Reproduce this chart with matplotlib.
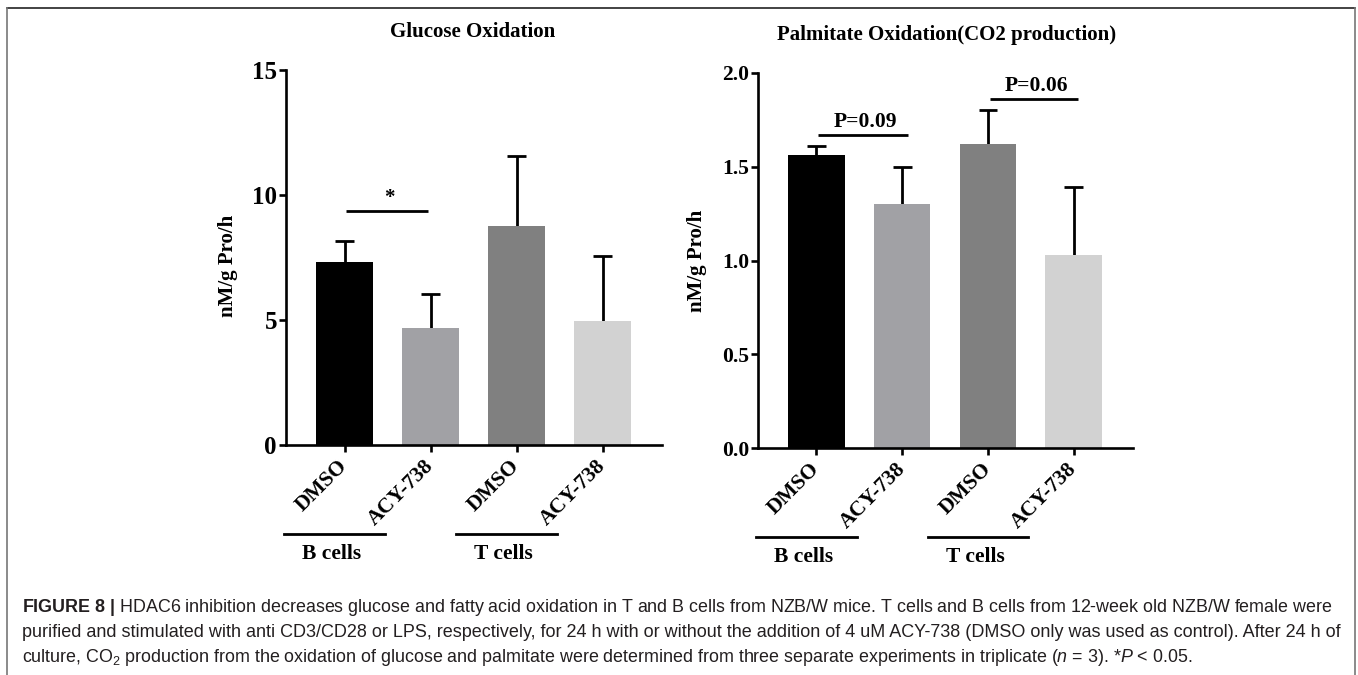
import matplotlib
matplotlib.use("Agg")
import matplotlib.pyplot as plt
from matplotlib.lines import Line2D
from matplotlib.transforms import blended_transform_factory

# ---- data ----
conditions = ["DMSO", "ACY-738", "DMSO", "ACY-738"]
groups = ["B cells", "T cells"]
bar_colors = ["#000000", "#a1a1a5", "#808080", "#d2d2d2"]

glucose_mean = [7.32, 4.68, 8.77, 4.96]
glucose_err = [0.84, 1.36, 2.80, 2.61]

palmitate_mean = [1.56, 1.30, 1.62, 1.03]
palmitate_err = [0.05, 0.20, 0.18, 0.36]

# (start bar, end bar, height, label)
glucose_brackets = [(0.02, 0.97, 9.35, "*")]
palmitate_brackets = [(0.02, 1.07, 1.668, "P=0.09"), (2.02, 3.05, 1.86, "P=0.06")]

caption = [
    r"$\bf{FIGURE\ 8\ |}$ HDAC6 inhibition decreases glucose and fatty acid oxidation in T and B cells from NZB/W mice. "
    "T cells and B cells from 12-week old NZB/W female were",
    "purified and stimulated with anti CD3/CD28 or LPS, respectively, for 24 h with or without the addition of "
    "4 uM ACY-738 (DMSO only was used as control). After 24 h of",
    r"culture, CO$_2$ production from the oxidation of glucose and palmitate were determined from three separate "
    r"experiments in triplicate ($\it{n}$ = 3). *$\it{P}$ < 0.05.",
]

plt.rcParams["font.family"] = "Liberation Serif"
plt.rcParams["mathtext.fontset"] = "custom"
plt.rcParams["mathtext.rm"] = "Liberation Sans:normal"
plt.rcParams["mathtext.it"] = "Liberation Sans:italic:normal"
plt.rcParams["mathtext.bf"] = "Liberation Sans:bold"

W, H = 1358, 675
fig = plt.figure(figsize=(W / 100, H / 100), dpi=100)


def px(x, y):
    return x / W, 1 - y / H


def bar_panel(rect, means, errs, ylim, yticks, fmt, brackets, title, title_xy,
              ylabel_xy, tick_fs, bracket_fs):
    ax = fig.add_axes(rect)
    x = list(range(len(means)))
    ax.bar(x, means, width=0.66, color=bar_colors, zorder=2)
    # upper error bars only (line from bar top + cap)
    tops = [m + e for m, e in zip(means, errs)]
    ax.vlines(x, means, tops, color="black", lw=2.0, zorder=1)
    ax.hlines(tops, [i - 0.11 for i in x], [i + 0.11 for i in x], color="black", lw=2.0, zorder=1)
    ax.set_xlim(-0.68, 3.69)
    ax.set_ylim(*ylim)
    ax.set_yticks(yticks)
    ax.set_yticklabels([fmt.format(v) for v in yticks], fontsize=tick_fs, fontweight="bold")
    ax.set_xticks(x)
    ax.set_xticklabels(conditions, rotation=45, ha="right", va="center",
                       rotation_mode="anchor", fontsize=15.5, fontweight="bold")
    for s in ["top", "right"]:
        ax.spines[s].set_visible(False)
    for s in ["left", "bottom"]:
        ax.spines[s].set_linewidth(1.9)
    ax.tick_params(axis="both", length=5, width=1.9, pad=1.5)
    ax.tick_params(axis="x", pad=8)
    ax.set_ylabel("nM/g Pro/h", fontsize=15, fontweight="bold")
    ax.yaxis.set_label_coords(*ylabel_xy)

    for x0, x1, y, label in brackets:
        ax.plot([x0, x1], [y, y], color="black", lw=2, solid_capstyle="butt")
        ax.text((x0 + x1) / 2 + 0.03, y + (ylim[1] - ylim[0]) * 0.008, label,
                ha="center", va="bottom", fontsize=bracket_fs, fontweight="bold")

    # group underlines below the tick labels
    tr = blended_transform_factory(ax.transData, ax.transAxes)
    for i, g in enumerate(groups):
        x0 = 2 * i - 0.70
        ax.add_line(Line2D([x0, x0 + 1.17], [-0.236, -0.236], transform=tr,
                           color="black", lw=2, clip_on=False))
        ax.text(x0 + 0.55, -0.29, g, transform=tr, ha="center", va="center",
                fontsize=15.5, fontweight="bold")

    fig.text(*px(*title_xy), title, ha="center", va="center", fontsize=15, fontweight="bold")
    return ax


bar_panel([286 / W, 1 - 445 / H, 376 / W, 375 / H], glucose_mean, glucose_err,
          (0, 15), [0, 5, 10, 15], "{:d}", glucose_brackets,
          "Glucose Oxidation", (473, 32), (-0.128, 0.477), 18, 15)
bar_panel([758 / W, 1 - 448.3 / H, 375 / W, 375.6 / H], palmitate_mean, palmitate_err,
          (0, 2.0), [0.0, 0.5, 1.0, 1.5, 2.0], "{:.1f}", palmitate_brackets,
          "Palmitate Oxidation(CO2 production)", (947, 35), (-0.136, 0.50), 15.5, 15.5)

# frame around figure + caption
fig.add_artist(Line2D([7 / W, 1355 / W], [1 - 8 / H] * 2, transform=fig.transFigure,
                      color="#222222", lw=1.2))
for xx in (7, 1355):
    fig.add_artist(Line2D([xx / W] * 2, [1 - 8 / H, 0], transform=fig.transFigure,
                          color="#777777", lw=1.2))

# caption, first two lines justified to the frame width
texts = []
for i, line in enumerate(caption):
    t = fig.text(*px(22, 608 + 24.5 * i), line, ha="left", va="center", fontsize=11,
                 family="Liberation Sans", color="#231f20")
    texts.append(t)
target = 1338 - 22
for _ in range(2):
    fig.canvas.draw()
    r = fig.canvas.get_renderer()
    for t in texts[:2]:
        w = t.get_window_extent(r).width
        t.set_fontsize(t.get_fontsize() * target / w)
texts[2].set_fontsize(texts[0].get_fontsize())

fig.savefig("out.png", dpi=100)
